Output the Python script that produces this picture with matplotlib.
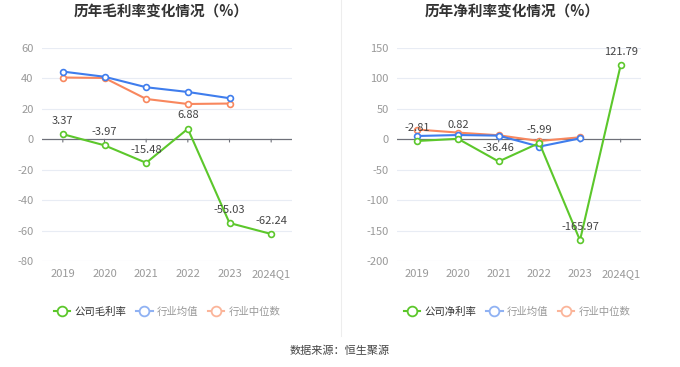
import matplotlib
matplotlib.use('Agg')
import matplotlib.pyplot as plt
from matplotlib.lines import Line2D

plt.rcParams['font.family'] = ['Noto Sans CJK SC', 'DejaVu Sans']

years = ['2019', '2020', '2021', '2022', '2023', '2024Q1']

# 毛利率
gross_company = [3.37, -3.97, -15.48, 6.88, -55.03, -62.24]
gross_avg = [44.5, 41.1, 34.2, 31.1, 27.0]
gross_median = [40.6, 40.3, 26.5, 23.2, 23.5]

# 净利率
net_company = [-2.81, 0.82, -36.46, -5.99, -165.97, 121.79]
net_avg = [5.4, 7.0, 6.0, -12.0, 1.5]
net_median = [16.0, 11.0, 6.6, -2.8, 3.3]

green = '#5cc72b'
blue = '#3f7ded'
orange = '#f8875e'
green_l = '#5cc72b'
blue_l = '#90b2f3'
orange_l = '#fbb59a'

fig = plt.figure(figsize=(6.8, 3.67), dpi=100)


def draw(ax, comp, avg, med, ylim, yticks, title, title_x, leg_name, leg_x):
    x = list(range(len(years)))
    for yt in yticks:
        if yt != 0:
            ax.axhline(yt, color='#e8ecf4', lw=0.8, zorder=0)
    ax.axhline(0, color='#6e7079', lw=0.9, zorder=1)
    mk = dict(marker='o', markersize=4.2, markerfacecolor='white', markeredgewidth=1.2, lw=1.5, clip_on=False)
    ax.plot(x[:len(med)], med, color=orange, zorder=3, **mk)
    ax.plot(x[:len(avg)], avg, color=blue, zorder=4, **mk)
    ax.plot(x, comp, color=green, zorder=5, **mk)
    for xi, v in zip(x, comp):
        ax.annotate('%.2f' % v, (xi, v), xytext=(0, 6), textcoords='offset points',
                    ha='center', va='bottom', fontsize=8, color='#444444', zorder=6)
    # small ticks below zero line
    for xi in x:
        ax.annotate('', (xi, 0), xytext=(0, -4), textcoords='offset points',
                    arrowprops=dict(arrowstyle='-', color='#6e7079', lw=0.8))
    ax.set_xlim(-0.5, len(years) - 0.5)
    ax.set_ylim(*ylim)
    ax.set_yticks(yticks)
    ax.set_yticklabels([str(t) for t in yticks], fontsize=8, color='#999999')
    ax.set_xticks(x)
    ax.set_xticklabels(years, fontsize=8, color='#999999')
    ax.tick_params(length=0, pad=6)
    for s in ax.spines.values():
        s.set_visible(False)
    fig.text(title_x, 1 - 12 / 367, title, ha='center', va='center', fontsize=10.5,
             fontweight='bold', color='#333333')

    handles = [
        Line2D([], [], color=green_l, marker='o', markersize=7, markerfacecolor='white', markeredgewidth=1.3, lw=1.5),
        Line2D([], [], color=blue_l, marker='o', markersize=7, markerfacecolor='white', markeredgewidth=1.3, lw=1.5),
        Line2D([], [], color=orange_l, marker='o', markersize=7, markerfacecolor='white', markeredgewidth=1.3, lw=1.5),
    ]
    leg = fig.legend(handles, [leg_name, '行业均值', '行业中位数'], loc='center',
                     bbox_to_anchor=(leg_x, 1 - 312 / 367), ncol=3, frameon=False,
                     fontsize=7.5, handlelength=1.6, handletextpad=0.4, columnspacing=0.9)
    cols = ['#333333', '#999999', '#999999']
    for t, c in zip(leg.get_texts(), cols):
        t.set_color(c)


ax1 = fig.add_axes([42 / 680, 1 - 261 / 367, 250 / 680, 213 / 367])
draw(ax1, gross_company, gross_avg, gross_median, (-80, 60), [-80, -60, -40, -20, 0, 20, 40, 60],
     '历年毛利率变化情况（%）', 161 / 680, '公司毛利率', 167 / 680)

ax2 = fig.add_axes([397 / 680, 1 - 261 / 367, 244 / 680, 213 / 367])
draw(ax2, net_company, net_avg, net_median, (-200, 150), [-200, -150, -100, -50, 0, 50, 100, 150],
     '历年净利率变化情况（%）', 512 / 680, '公司净利率', 517 / 680)

fig.add_artist(Line2D([341 / 680, 341 / 680], [1 - 336 / 367, 1.0], color='#ededed', lw=0.8))
fig.text(0.5, 1 - 351 / 367, '数据来源：恒生聚源', ha='center', va='center', fontsize=8, color='#444444')

fig.savefig('out.png', dpi=100)
